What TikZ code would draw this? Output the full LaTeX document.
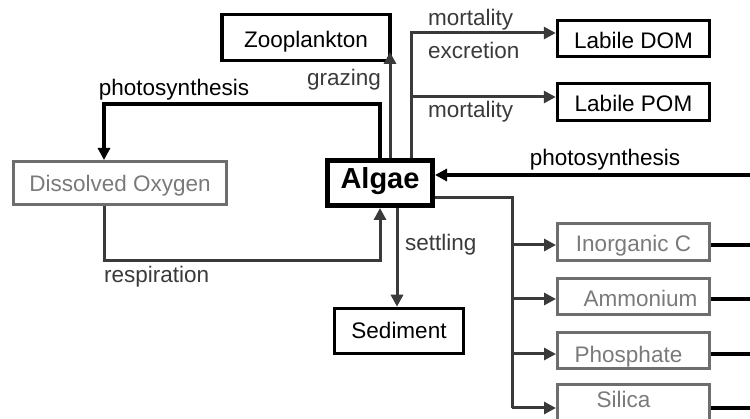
\documentclass[tikz,border=0pt]{standalone}
\usepackage{fontspec}
\setmainfont{Liberation Sans}
\usetikzlibrary{arrows.meta}
\definecolor{dk}{HTML}{3A3A3A}
\definecolor{gborder}{HTML}{6E6E6E}
\definecolor{gtext}{HTML}{7A7A7A}
\begin{document}
\begin{tikzpicture}[x=1pt,y=-1pt,
  txt/.style={font=\fontsize{22.5}{26}\selectfont},
  box/.style={txt,draw=black,line width=3.5pt,inner sep=0pt,text=black,text height=20pt,text depth=0pt},
  gbox/.style={txt,draw=gborder,line width=3pt,inner sep=0pt,text=gtext,text height=20pt,text depth=0pt},
  tip/.style={-{Triangle[length=12pt,width=12pt]}},
  conn/.style={tip,draw=dk,line width=3pt},
  bconn/.style={tip,draw=black,line width=3.2pt},
  plain/.style={draw=black,line width=3.2pt},
  lab/.style={txt,text=dk,inner sep=0pt},
  blab/.style={txt,text=black,inner sep=0pt}
]
\useasboundingbox (0,0) rectangle (750,419);

% boxes
\node[box,minimum width=168pt,minimum height=46pt] (zoo) at (306,37.5) {Zooplankton};
\node[box,minimum width=152pt,minimum height=36pt] (ldom) at (633.5,38.5) {Labile DOM};
\node[box,minimum width=152pt,minimum height=37pt] (lpom) at (633.5,102) {Labile POM};
\node[gbox,minimum width=213pt,minimum height=43pt,text height=17pt] (do) at (120,183) {Dissolved Oxygen};
\node[box,line width=5pt,minimum width=105pt,minimum height=45pt,font=\fontsize{29}{33}\selectfont\bfseries,text height=21pt,text depth=10pt] (algae) at (380,183) {Algae};
\node[box,minimum width=129pt,minimum height=45pt,text height=16pt] (sed) at (399,331) {Sediment};
\node[gbox,minimum width=152pt,minimum height=37pt] (inc) at (633.5,242) {Inorganic C};
\node[gbox,minimum width=152pt,minimum height=36pt] (amm) at (633.5,296.5) {\hspace*{14pt}Ammonium};
\node[gbox,minimum width=152pt,minimum height=36pt,text height=24pt] (pho) at (633.5,350.5) {Phosphate\hspace*{10pt}};
\node[gbox,minimum width=152pt,minimum height=36pt,text height=10pt] (sil) at (633.5,403) {Silica\hspace*{20pt}};

% coordinates
\coordinate (ps1) at (380,104);
\coordinate (ps2) at (104,104);
\coordinate (gz) at (390,52);
\coordinate (mx1) at (411,33);
\coordinate (mx2) at (411,97);
\coordinate (pr) at (750,175);
\coordinate (nt0) at (435,198);
\coordinate (nt1) at (512,198);
\coordinate (b1) at (512,245);
\coordinate (b2) at (512,299);
\coordinate (b3) at (512,354);
\coordinate (b4) at (512,408);
\coordinate (r1) at (104,261);
\coordinate (r2) at (380,261);
\coordinate (st) at (397,0);
\coordinate (e1) at (750,245);
\coordinate (e2) at (750,299);
\coordinate (e3) at (750,354);
\coordinate (e4) at (750,408);

% photosynthesis to DO
\draw[bconn] (algae.north -| ps1) -- (ps1) -- (ps2) -- (do.north -| ps2);
% grazing
\draw[conn] (algae.north -| gz) -- (gz);
% mortality / excretion
\draw[conn] (algae.north -| mx1) -- (mx1) -- (ldom.west |- mx1);
\draw[conn] (mx2) -- (lpom.west |- mx2);
% photosynthesis from right
\draw[bconn] (pr) -- (algae.east |- pr);
% algae to nutrients
\draw[draw=dk,line width=3pt] (algae.east |- nt0) -- (nt1) -- (b4);
\draw[conn] (b1) -- (inc.west |- b1);
\draw[conn] (b2) -- (amm.west |- b2);
\draw[conn] (b3) -- (pho.west |- b3);
\draw[conn] (b4) -- (sil.west |- b4);
% nutrients out to right
\draw[plain] (inc.east |- e1) -- (e1);
\draw[plain] (amm.east |- e2) -- (e2);
\draw[plain] (pho.east |- e3) -- (e3);
\draw[plain] (sil.east |- e4) -- (e4);
% respiration
\draw[conn] (do.south -| r1) -- (r1) -- (r2) -- (algae.south -| r2);
% settling
\draw[conn] (algae.south -| st) -- (sed.north -| st);

% labels
\node[blab] (lps1) at (174,90) {photosynthesis};
\node[lab,anchor=east] (lgz) at (381,80) {grazing};
\node[lab,anchor=west] (lm1) at (428,20) {mortality};
\node[lab,anchor=west] (lex) at (428,50) {excretion};
\node[lab,anchor=west] (lm2) at (428,112) {mortality};
\node[blab] (lps2) at (605,160) {photosynthesis};
\node[lab,anchor=west] (lst) at (405,245) {settling};
\node[lab,anchor=west] (lrs) at (104,277) {respiration};
\end{tikzpicture}
\end{document}
